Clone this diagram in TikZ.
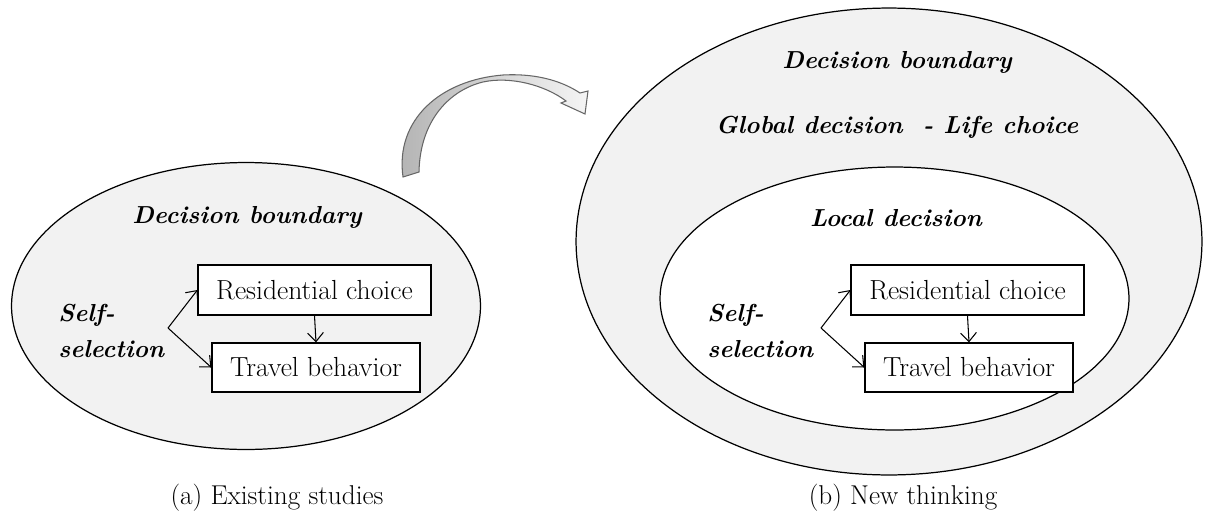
\documentclass[tikz,border=0pt]{standalone}
\usetikzlibrary{shapes.geometric,arrows.meta}

\newcommand{\mainLineWidth}{0.7pt}
\newcommand{\linkLineWidth}{0.6pt}
\newcommand{\groupRightX}{653}
\newcommand{\leftEllipseX}{246}
\newcommand{\leftEllipseY}{306}
\newcommand{\outerEllipseX}{889}
\newcommand{\outerEllipseY}{241.5}
\newcommand{\innerEllipseX}{894.5}
\newcommand{\innerEllipseY}{298.5}

\tikzset{
  labelText/.style={font=\fontsize{14}{20.4}\selectfont\bfseries\itshape, inner sep=0pt},
  boxText/.style={font=\fontsize{15.7}{19}\selectfont, inner sep=0pt},
  choiceBox/.style={draw, fill=white, line width=\mainLineWidth, boxText,
    minimum width=4.66cm, minimum height=1.0cm},
  behaviorBox/.style={draw, fill=white, line width=\mainLineWidth, boxText,
    minimum width=4.16cm, minimum height=0.98cm},
  boundary/.style={draw, ellipse, line width=\mainLineWidth, inner sep=0pt},
  link/.style={line width=\linkLineWidth, -{Straight Barb[length=5pt,width=9pt]}},
  captionText/.style={font=\fontsize{15.5}{18}\selectfont, inner sep=0pt}
}

\begin{document}
\begin{tikzpicture}[x=0.02cm,y=-0.02cm]
    \useasboundingbox (0,0) rectangle (1213,514);

    % Left ellipse: existing studies
    \node[boundary, fill=gray!10, minimum width=9.38cm, minimum height=5.74cm]
        (leftBoundary) at (\leftEllipseX,\leftEllipseY) {};
    \node[labelText] (leftTitle) at (247,217) {Decision boundary};
    \node[choiceBox] (leftChoice) at (314.5,290) {Residential choice};
    \node[behaviorBox] (leftTravel) at (316,367.5) {Travel behavior};
    \node[labelText, anchor=west, align=left] (leftSelf) at (58,331) {Self-\\selection};
    \coordinate (leftSplit) at (168,328);

    % Left links
    \draw[link] (leftChoice.south) -- (leftTravel.north);
    \draw[link] (leftSplit) -- (leftChoice.west);
    \draw[link] (leftSplit) -- (leftTravel.west);

    % Right ellipses: new thinking
    \node[boundary, fill=gray!10, minimum width=12.52cm, minimum height=9.34cm]
        (outerBoundary) at (\outerEllipseX,\outerEllipseY) {};
    \node[boundary, fill=white, minimum width=9.38cm, minimum height=5.26cm]
        (innerBoundary) at (\innerEllipseX,\innerEllipseY) {};
    \node[labelText] (rightTitle) at (897,62) {Decision boundary};
    \node[labelText] (globalTitle) at (897,127) {Global decision ~- Life choice};
    \node[labelText] (localTitle) at (896,218) {Local decision};
    \node[choiceBox] (rightChoice) at (\groupRightX+314.5,290) {Residential choice};
    \node[behaviorBox] (rightTravel) at (\groupRightX+316,367.5) {Travel behavior};
    \node[labelText, anchor=west, align=left] (rightSelf) at (\groupRightX+54,331) {Self-\\selection};
    \coordinate (rightSplit) at (\groupRightX+168,328);

    % Right links
    \draw[link] (rightChoice.south) -- (rightTravel.north);
    \draw[link] (rightSplit) -- (rightChoice.west);
    \draw[link] (rightSplit) -- (rightTravel.west);

    % Curved arrow between the two
    \draw[draw=gray!80!black, line width=0.6pt, left color=gray!60, right color=gray!8]
        (403,177) .. controls (395,120) and (440,80) .. (503,75)
        .. controls (540,73) and (565,83) .. (580,93) -- (588,91) -- (585,114)
        -- (561,103) -- (566,101) .. controls (545,85) and (510,76) .. (483,82)
        .. controls (450,90) and (420,120) .. (419,172) -- cycle;

    % Captions
    \node[captionText] (leftCaption) at (277,498) {(a) Existing studies};
    \node[captionText] (rightCaption) at (903,498) {(b) New thinking};
\end{tikzpicture}
\end{document}
